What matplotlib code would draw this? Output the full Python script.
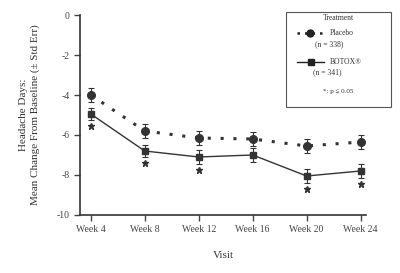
import matplotlib.pyplot as plt
from matplotlib.patches import Rectangle
from matplotlib.lines import Line2D

plt.rcParams['font.family'] = ['Liberation Serif', 'DejaVu Serif']
plt.rcParams['axes.unicode_minus'] = False

visits = ['Week 4', 'Week 8', 'Week 12', 'Week 16', 'Week 20', 'Week 24']
placebo = [-4.0, -5.8, -6.15, -6.2, -6.55, -6.35]
placebo_err = [0.35, 0.35, 0.35, 0.35, 0.35, 0.35]
botox = [-4.95, -6.8, -7.1, -7.0, -8.05, -7.8]
botox_err = [0.3, 0.3, 0.35, 0.35, 0.35, 0.35]
significant = [True, True, True, False, True, True]

x = list(range(len(visits)))

fig = plt.figure(figsize=(4.0, 2.73), dpi=100)
ax = fig.add_axes([0.2, 0.2125, 0.715, 0.7325])

ax.errorbar(x, placebo, yerr=placebo_err, fmt='o', color='#333333',
            ls=(0, (1, 3.2)), lw=2.2, ms=5.5, capsize=2.5, elinewidth=0.8, capthick=0.8)
ax.errorbar(x, botox, yerr=botox_err, fmt='s', color='#333333',
            ls='-', lw=1.0, ms=5, capsize=2.5, elinewidth=0.8, capthick=0.8)

sx = [xi for xi, s in zip(x, significant) if s]
sy = [yi - e - 0.3 for yi, e, s in zip(botox, botox_err, significant) if s]
ax.plot(sx, sy, ls='none', marker='*', ms=4.5, color='#333333')

ax.set_xlim(-0.2, 5.1)
ax.set_ylim(-10, 0)
ax.set_yticks([0, -2, -4, -6, -8, -10])
ax.set_xticks(x)
ax.set_xticklabels(visits)
for s in ['top', 'right']:
    ax.spines[s].set_visible(False)
for s in ['left', 'bottom']:
    ax.spines[s].set_color('#333333')
    ax.spines[s].set_linewidth(1.2)
ax.tick_params(labelsize=7, colors='#444444', length=4, width=1)
ax.set_xlabel('Visit', fontsize=8, color='#333333', labelpad=12)
ax.set_ylabel('Headache Days:\nMean Change From Baseline (\u00b1 Std Err)', fontsize=8,
              color='#333333', labelpad=12, linespacing=1.3)

# legend box
fig.patches.append(Rectangle((286 / 400, 1 - 107 / 273), 105 / 400, 95 / 273,
                             transform=fig.transFigure, fill=False, ec='#555555', lw=0.8))
fig.text(338 / 400, 1 - 18 / 273, 'Treatment', fontsize=5.5, ha='center', va='center', color='#333333')
fig.lines.append(Line2D([297 / 400, 322 / 400], [1 - 33 / 273] * 2, transform=fig.transFigure,
                        color='#222222', ls=(0, (1, 2)), lw=1.8))
fig.lines.append(Line2D([310 / 400], [1 - 33 / 273], transform=fig.transFigure,
                        color='#222222', marker='o', ms=5))
fig.text(330 / 400, 1 - 33 / 273, 'Placebo', fontsize=5.5, va='center', color='#333333')
fig.text(315 / 400, 1 - 44 / 273, '(n = 338)', fontsize=5.5, va='center', color='#333333')
fig.lines.append(Line2D([297 / 400, 324 / 400], [1 - 62 / 273] * 2, transform=fig.transFigure,
                        color='#222222', lw=1.0))
fig.lines.append(Line2D([311 / 400], [1 - 62 / 273], transform=fig.transFigure,
                        color='#222222', marker='s', ms=4.5))
fig.text(330 / 400, 1 - 62 / 273, 'BOTOX\u00ae', fontsize=5.5, va='center', color='#333333')
fig.text(313 / 400, 1 - 72 / 273, '(n = 341)', fontsize=5.5, va='center', color='#333333')
fig.text(338 / 400, 1 - 91 / 273, '*: p \u2264 0.05', fontsize=5, ha='center', va='center', color='#333333')

fig.savefig('out.png', dpi=100)
